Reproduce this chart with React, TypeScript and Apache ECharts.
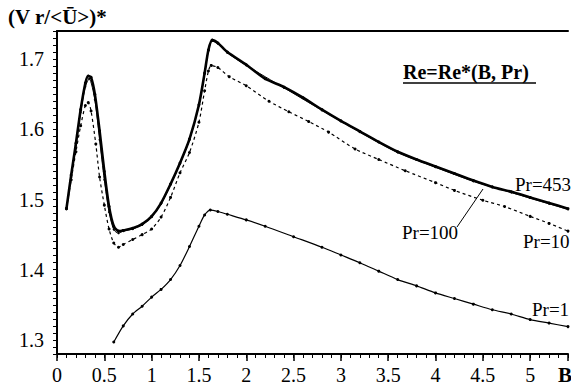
import React, { useEffect, useRef } from "react";
import * as echarts from "echarts";

const pr453X = [0.1, 0.15, 0.2, 0.25, 0.3, 0.33, 0.36, 0.4, 0.45, 0.5, 0.55, 0.6, 0.65, 0.7, 0.8, 0.9, 1.0, 1.1, 1.2, 1.3, 1.4, 1.5, 1.56, 1.6, 1.64, 1.7, 1.8, 2.0, 2.2, 2.4, 2.6, 2.8, 3.0, 3.2, 3.4, 3.6, 3.8, 4.0, 4.2, 4.4, 4.6, 4.8, 5.0, 5.2, 5.4];
const pr453Y = [1.487, 1.535, 1.58, 1.628, 1.666, 1.676, 1.674, 1.65, 1.598, 1.54, 1.49, 1.462, 1.455, 1.456, 1.459, 1.465, 1.476, 1.495, 1.522, 1.552, 1.586, 1.635, 1.68, 1.713, 1.727, 1.723, 1.71, 1.692, 1.672, 1.66, 1.645, 1.628, 1.612, 1.597, 1.582, 1.568, 1.557, 1.547, 1.537, 1.527, 1.518, 1.511, 1.503, 1.495, 1.487];

const pr100X = [0.1, 0.15, 0.2, 0.25, 0.3, 0.34, 0.4, 0.45, 0.5, 0.55, 0.6, 0.65, 0.7, 0.8, 0.9, 1.0, 1.1, 1.2, 1.3, 1.4, 1.5, 1.56, 1.6, 1.64, 1.7, 1.8, 2.0, 2.4, 2.8, 3.2, 3.6, 4.0, 4.4, 4.8, 5.2, 5.4];
const pr100Y = [1.487, 1.533, 1.577, 1.624, 1.661, 1.672, 1.642, 1.585, 1.528, 1.482, 1.457, 1.452, 1.455, 1.458, 1.464, 1.475, 1.494, 1.521, 1.551, 1.585, 1.634, 1.679, 1.712, 1.726, 1.722, 1.709, 1.691, 1.659, 1.627, 1.596, 1.567, 1.546, 1.526, 1.51, 1.494, 1.486];

const pr10X = [0.1, 0.15, 0.2, 0.25, 0.3, 0.33, 0.36, 0.41, 0.45, 0.5, 0.55, 0.6, 0.65, 0.7, 0.8, 0.9, 1.0, 1.1, 1.2, 1.3, 1.4, 1.5, 1.56, 1.6, 1.63, 1.7, 1.82, 2.0, 2.24, 2.45, 2.66, 2.87, 3.15, 3.4, 3.68, 4.0, 4.2, 4.5, 4.73, 5.0, 5.2, 5.4];
const pr10Y = [1.487, 1.528, 1.568, 1.605, 1.634, 1.638, 1.626, 1.579, 1.532, 1.492, 1.458, 1.438, 1.432, 1.436, 1.443, 1.45, 1.458, 1.475, 1.503, 1.538, 1.567, 1.61, 1.655, 1.683, 1.691, 1.688, 1.675, 1.662, 1.64, 1.625, 1.611, 1.596, 1.572, 1.557, 1.541, 1.524, 1.513, 1.499, 1.49, 1.476, 1.466, 1.455];

const pr1X = [0.6, 0.7, 0.8, 0.9, 1.0, 1.1, 1.2, 1.3, 1.4, 1.5, 1.56, 1.62, 1.7, 1.8, 2.0, 2.2, 2.5, 2.8, 3.0, 3.2, 3.4, 3.6, 3.8, 4.0, 4.2, 4.4, 4.6, 4.8, 5.0, 5.2, 5.4];
const pr1Y = [1.297, 1.32, 1.337, 1.348, 1.361, 1.372, 1.386, 1.406, 1.433, 1.462, 1.478, 1.485, 1.483, 1.479, 1.471, 1.462, 1.447, 1.432, 1.421, 1.41, 1.398, 1.386, 1.377, 1.367, 1.359, 1.351, 1.343, 1.337, 1.329, 1.324, 1.319];

const xMin = 0;
const xMax = 5.4;
const yMin = 1.28;
const yMax = 1.74;

const yTitle = "(V r/<Ū>)*";
const xTitle = "B";
const boxTitle = "Re=Re*(B, Pr)";
const curveLabels = ["Pr=453", "Pr=100", "Pr=10", "Pr=1"];

const SERIF = "Times New Roman, Liberation Serif, DejaVu Serif, serif";

function pairs(xs: number[], ys: number[]) {
  return xs.map((x, i) => [x, ys[i]]);
}

function label(text: string, left: number, top: number, size: number, bold: boolean) {
  return {
    type: "text",
    left,
    top,
    style: {
      text,
      fontFamily: SERIF,
      fontSize: size,
      fontWeight: bold ? "bold" : "normal",
      fill: "#000",
    },
  };
}

export default function App() {
  const ref = useRef<HTMLDivElement>(null);
  useEffect(() => {
    const chart = echarts.init(ref.current!, null, { renderer: "svg" });
    const lineBase = {
      type: "line" as const,
      symbol: "circle",
      symbolSize: 3,
      smooth: 0.25,
      itemStyle: { color: "#000" },
      xAxisIndex: 0,
      yAxisIndex: 0,
    };
    chart.setOption({
      animation: false,
      backgroundColor: "#fff",
      textStyle: { fontFamily: SERIF },
      grid: { left: 57, right: 0, top: 31, bottom: 35 },
      xAxis: [
        {
          type: "value",
          min: xMin,
          max: xMax,
          interval: 0.1,
          position: "bottom",
          axisLine: { show: true, lineStyle: { color: "#000", width: 2 } },
          axisTick: { show: true, length: 4, lineStyle: { color: "#000", width: 1 } },
          splitLine: { show: false },
          axisLabel: {
            margin: 11,
            color: "#000",
            fontFamily: SERIF,
            fontSize: 20,
            formatter: (v: number) =>
              Math.abs(v * 2 - Math.round(v * 2)) < 1e-6 && v < 5.2 ? String(+v.toFixed(1)) : "",
          },
        },
        {
          type: "value",
          min: xMin,
          max: xMax,
          interval: 0.5,
          position: "bottom",
          axisLine: { show: false },
          axisTick: { show: true, length: 7, lineStyle: { color: "#000", width: 1.5 } },
          splitLine: { show: false },
          axisLabel: { show: false },
        },
        {
          type: "value",
          min: xMin,
          max: xMax,
          position: "top",
          axisLine: { show: true, lineStyle: { color: "#000", width: 2 } },
          axisTick: { show: false },
          splitLine: { show: false },
          axisLabel: { show: false },
        },
      ],
      yAxis: [
        {
          type: "value",
          min: yMin,
          max: yMax,
          interval: 0.01,
          axisLine: { show: true, lineStyle: { color: "#000", width: 2 } },
          axisTick: { show: true, length: 4, lineStyle: { color: "#000", width: 1 } },
          splitLine: { show: false },
          axisLabel: {
            margin: 13,
            color: "#000",
            fontFamily: SERIF,
            fontSize: 20,
            formatter: (v: number) =>
              Math.abs(v * 10 - Math.round(v * 10)) < 1e-6 ? v.toFixed(1) : "",
          },
        },
      ],
      series: [
        {
          ...lineBase,
          name: "Pr=10",
          data: pairs(pr10X, pr10Y),
          lineStyle: { color: "#000", width: 1.2, type: [3, 3] },
        },
        {
          ...lineBase,
          name: "Pr=1",
          data: pairs(pr1X, pr1Y),
          lineStyle: { color: "#000", width: 1.2 },
        },
        {
          ...lineBase,
          name: "Pr=453",
          data: pairs(pr453X, pr453Y),
          lineStyle: { color: "#000", width: 2.6 },
        },
        {
          ...lineBase,
          name: "Pr=100",
          data: pairs(pr100X, pr100Y),
          symbolSize: 2,
          lineStyle: { color: "#000", width: 1 },
        },
      ],
      graphic: [
        label(yTitle, 8, 6, 21, true),
        label(xTitle, 558, 364, 21, true),
        label(boxTitle, 403, 62, 20, true),
        {
          type: "line",
          shape: { x1: 403, y1: 83, x2: 536, y2: 83 },
          style: { stroke: "#000", lineWidth: 1.5 },
        },
        label(curveLabels[0], 515, 175, 19, false),
        label(curveLabels[1], 402, 223, 19, false),
        {
          type: "line",
          shape: { x1: 457, y1: 227, x2: 483, y2: 189 },
          style: { stroke: "#000", lineWidth: 1 },
        },
        label(curveLabels[2], 523, 232, 19, false),
        label(curveLabels[3], 532, 300, 19, false),
      ],
    });
    return () => chart.dispose();
  }, []);
  return (
    <div
      ref={ref}
      style={{ position: "fixed", left: 0, top: 0, width: 571, height: 389, background: "#fff" }}
    />
  );
}
